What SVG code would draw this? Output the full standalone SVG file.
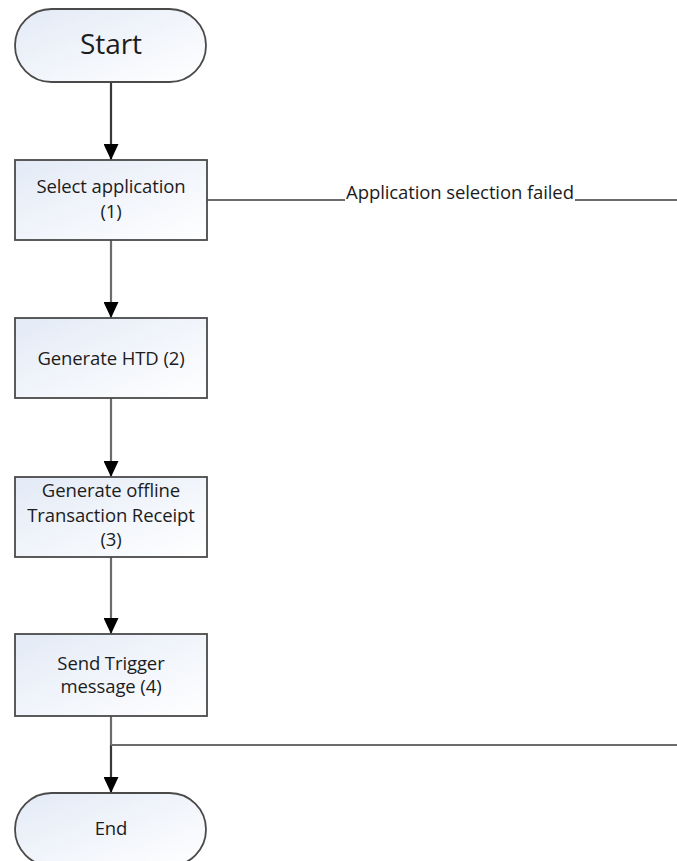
<svg xmlns="http://www.w3.org/2000/svg" width="677" height="861" viewBox="0 0 677 861">
  <defs>
    <linearGradient id="fillGrad" x1="0" y1="0" x2="1" y2="1">
      <stop offset="0" stop-color="#e3eaf6"/>
      <stop offset="1" stop-color="#ffffff"/>
    </linearGradient>
    <marker id="arrow" viewBox="0 0 16 15" markerWidth="16" markerHeight="15" refX="16" refY="7.5" orient="auto" markerUnits="userSpaceOnUse">
      <path d="M0,0 L16,7.5 L0,15 Z" fill="#000"/>
    </marker>
    <style>
      .shape { fill: url(#fillGrad); stroke: #4a4a4a; stroke-width: 1.8; }
      .label { font-family: "Open Sans", "Noto Sans", sans-serif; font-size: 18.5px; fill: #1c1c1c; text-anchor: middle; letter-spacing: -0.1px; }
      .big { font-size: 28px; }
      .conn { fill: none; stroke: #6c6c6c; stroke-width: 2.2; }
      .dark { stroke: #383838; }
    </style>
  </defs>
  <rect width="677" height="861" fill="#fff"/>

  <!-- connectors -->
  <g id="connectors">
    <path class="conn dark" d="M111,82 L111,160" marker-end="url(#arrow)"/>
    <path class="conn" d="M111,240 L111,318" marker-end="url(#arrow)"/>
    <path class="conn" d="M111,398 L111,477" marker-end="url(#arrow)"/>
    <path class="conn" d="M111,557 L111,634" marker-end="url(#arrow)"/>
    <path class="conn" d="M111,716 L111,745"/>
    <path class="conn dark" d="M111,745 L111,793" marker-end="url(#arrow)"/>
    <path class="conn" d="M111,745 L677,745"/>
    <!-- failure branch from application selection -->
    <path class="conn dark" style="stroke-width:1.6" d="M207,200 L345,200"/>
    <path class="conn dark" style="stroke-width:1.6" d="M575,200 L677,200"/>
    <text class="label" x="460" y="199" style="font-size:18.5px">Application selection failed</text>
  </g>

  <g id="start">
    <rect class="shape" x="15" y="9" width="191" height="73" rx="36.5" ry="36.5"/>
    <text class="label big" x="111" y="54">Start</text>
  </g>

  <g id="select-application">
    <rect class="shape" x="15" y="160" width="192" height="80"/>
    <text class="label" x="111" y="193">Select application</text>
    <text class="label" x="111" y="218">(1)</text>
  </g>

  <g id="generate-htd">
    <rect class="shape" x="15" y="318" width="192" height="80"/>
    <text class="label" x="111" y="365">Generate HTD (2)</text>
  </g>

  <g id="generate-receipt">
    <rect class="shape" x="15" y="477" width="192" height="80"/>
    <text class="label" x="111" y="497">Generate offline</text>
    <text class="label" x="111" y="522">Transaction Receipt</text>
    <text class="label" x="111" y="546">(3)</text>
  </g>

  <g id="send-trigger">
    <rect class="shape" x="15" y="634" width="192" height="82"/>
    <text class="label" x="111" y="670">Send Trigger</text>
    <text class="label" x="111" y="693">message (4)</text>
  </g>

  <g id="end">
    <rect class="shape" x="15" y="793" width="191" height="73" rx="36.5" ry="36.5"/>
    <text class="label" x="111" y="835">End</text>
  </g>
</svg>
